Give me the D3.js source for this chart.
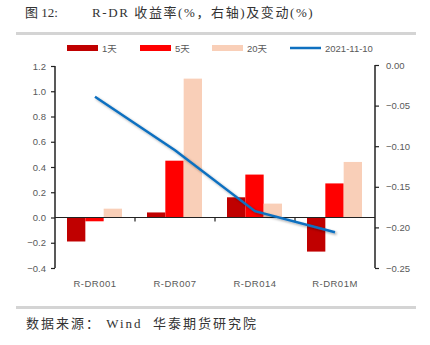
<!DOCTYPE html>
<html><head><meta charset="utf-8">
<script src="https://cdn.jsdelivr.net/npm/d3@7"></script>
<style>body{margin:0;background:#fff}svg{display:block}</style>
</head><body>
<svg id="c" width="430" height="345"></svg>
<script>
const categories = ["R-DR001","R-DR007","R-DR014","R-DR01M"];
const seriesNames = ["1天","5天","20天"];
const change1d = [-0.19, 0.04, 0.16, -0.27];
const change5d = [-0.03, 0.45, 0.34, 0.27];
const change20d = [0.07, 1.10, 0.11, 0.44];
const rate20211110 = [-0.039, -0.105, -0.180, -0.206];
const leftTicks = [-0.4,-0.2,0,0.2,0.4,0.6,0.8,1.0,1.2];
const rightTicks = [-0.25,-0.20,-0.15,-0.10,-0.05,0];
const lineName = "2021-11-10";
const colors = ["#C00000","#FF0000","#F9CFB8"];
const lineColor = "#0F70C0";

const svg = d3.select("#c");
const serif = "'Liberation Serif','Noto Sans CJK SC',serif";
const sans = "'Liberation Sans','DejaVu Sans','Noto Sans CJK SC',sans-serif";

// title
svg.append("text").attr("x",25).attr("y",17).attr("font-family",serif).attr("font-size",13).attr("fill","#333").text("图 12:");
svg.append("text").attr("x",92).attr("y",17).attr("font-family",serif).attr("font-size",13).attr("fill","#333")
  .attr("letter-spacing",1.6).text("R-DR 收益率(%，右轴)及变动(%)");
svg.append("rect").attr("x",16).attr("y",32).attr("width",400).attr("height",3).attr("fill","#d4d4d4");
svg.append("rect").attr("x",16).attr("y",306).attr("width",400).attr("height",3).attr("fill","#d4d4d4");
svg.append("text").attr("x",26).attr("y",328).attr("font-family",serif).attr("font-size",13).attr("fill","#333")
  .attr("letter-spacing",2).attr("xml:space","preserve").style("white-space","pre").text("数据来源： Wind  华泰期货研究院");

const x0 = d3.scaleBand().domain(categories).range([55,375]).paddingInner(0).paddingOuter(0);
const x1 = d3.scaleBand().domain(seriesNames).range([12, 67]).padding(0);
const yL = d3.scaleLinear().domain([-0.4,1.2]).range([268,66]);
const yR = d3.scaleLinear().domain([-0.25,0]).range([268,65]);

const data = [change1d, change5d, change20d];

// bars
seriesNames.forEach((s,si)=>{
  svg.append("g").selectAll("rect").data(categories).join("rect")
    .attr("x",c=>x0(c)+x1(s))
    .attr("width",x1.bandwidth())
    .attr("y",(c,i)=>yL(Math.max(0,data[si][i])))
    .attr("height",(c,i)=>Math.abs(yL(data[si][i])-yL(0)))
    .attr("fill",colors[si]);
});

// axes
const axL = d3.axisLeft(yL).tickValues(leftTicks).tickFormat(d3.format(".1f")).tickSize(4).tickPadding(5);
const gL = svg.append("g").attr("transform","translate(55,0)").call(axL);
const axR = d3.axisRight(yR).tickValues(rightTicks).tickFormat(d3.format(".2f")).tickSize(4).tickPadding(7);
const gR = svg.append("g").attr("transform","translate(375,0)").call(axR);
[gL,gR].forEach(g=>{
  g.select(".domain").attr("stroke","#222").attr("stroke-width",1.5).attr("d", g===gL?"M0,66V268":"M0,65V268");
  g.selectAll(".tick line").attr("stroke","#222").attr("stroke-width",1.2);
  g.selectAll(".tick text").attr("fill","#595959").attr("font-family",sans).attr("font-size",9.5);
});

// zero line + category ticks
const gX = svg.append("g").attr("transform",`translate(0,${yL(0)})`);
gX.append("line").attr("x1",55).attr("x2",375).attr("stroke","#222").attr("stroke-width",1.2);
gX.selectAll("line.t").data(categories.slice(1)).join("line").attr("class","t")
  .attr("x1",c=>x0(c)).attr("x2",c=>x0(c)).attr("y1",0).attr("y2",4).attr("stroke","#222").attr("stroke-width",1.2);
svg.append("g").selectAll("text").data(categories).join("text")
  .attr("x",c=>x0(c)+x0.bandwidth()/2).attr("y",287).attr("text-anchor","middle")
  .attr("fill","#595959").attr("font-family",sans).attr("font-size",9.5).attr("letter-spacing",0.5).text(c=>c);

// line with shadow
const defs = svg.append("defs");
const f = defs.append("filter").attr("id","sh").attr("x","-10%").attr("y","-10%").attr("width","130%").attr("height","130%");
f.append("feDropShadow").attr("dx",1.5).attr("dy",1.5).attr("stdDeviation",1.2).attr("flood-color","#000").attr("flood-opacity",0.35);
const line = d3.line().x((d,i)=>x0(categories[i])+x0.bandwidth()/2).y(d=>yR(d));
svg.append("path").datum(rate20211110).attr("d",line).attr("fill","none")
  .attr("stroke",lineColor).attr("stroke-width",2.5).attr("filter","url(#sh)");

// legend
const lg = svg.append("g").attr("font-family",sans).attr("font-size",9.5).attr("fill","#595959");
const legX = [67,140,212];
seriesNames.forEach((s,i)=>{
  lg.append("rect").attr("x",legX[i]).attr("y",45).attr("width",31).attr("height",6).attr("fill",colors[i]);
  lg.append("text").attr("x",legX[i]+35).attr("y",51.5).attr("fill","#595959").text(s);
});
lg.append("line").attr("x1",290).attr("x2",321).attr("y1",48).attr("y2",48).attr("stroke",lineColor).attr("stroke-width",2.5);
lg.append("text").attr("x",325).attr("y",51.5).attr("fill","#595959").text(lineName);
</script>
</body></html>
